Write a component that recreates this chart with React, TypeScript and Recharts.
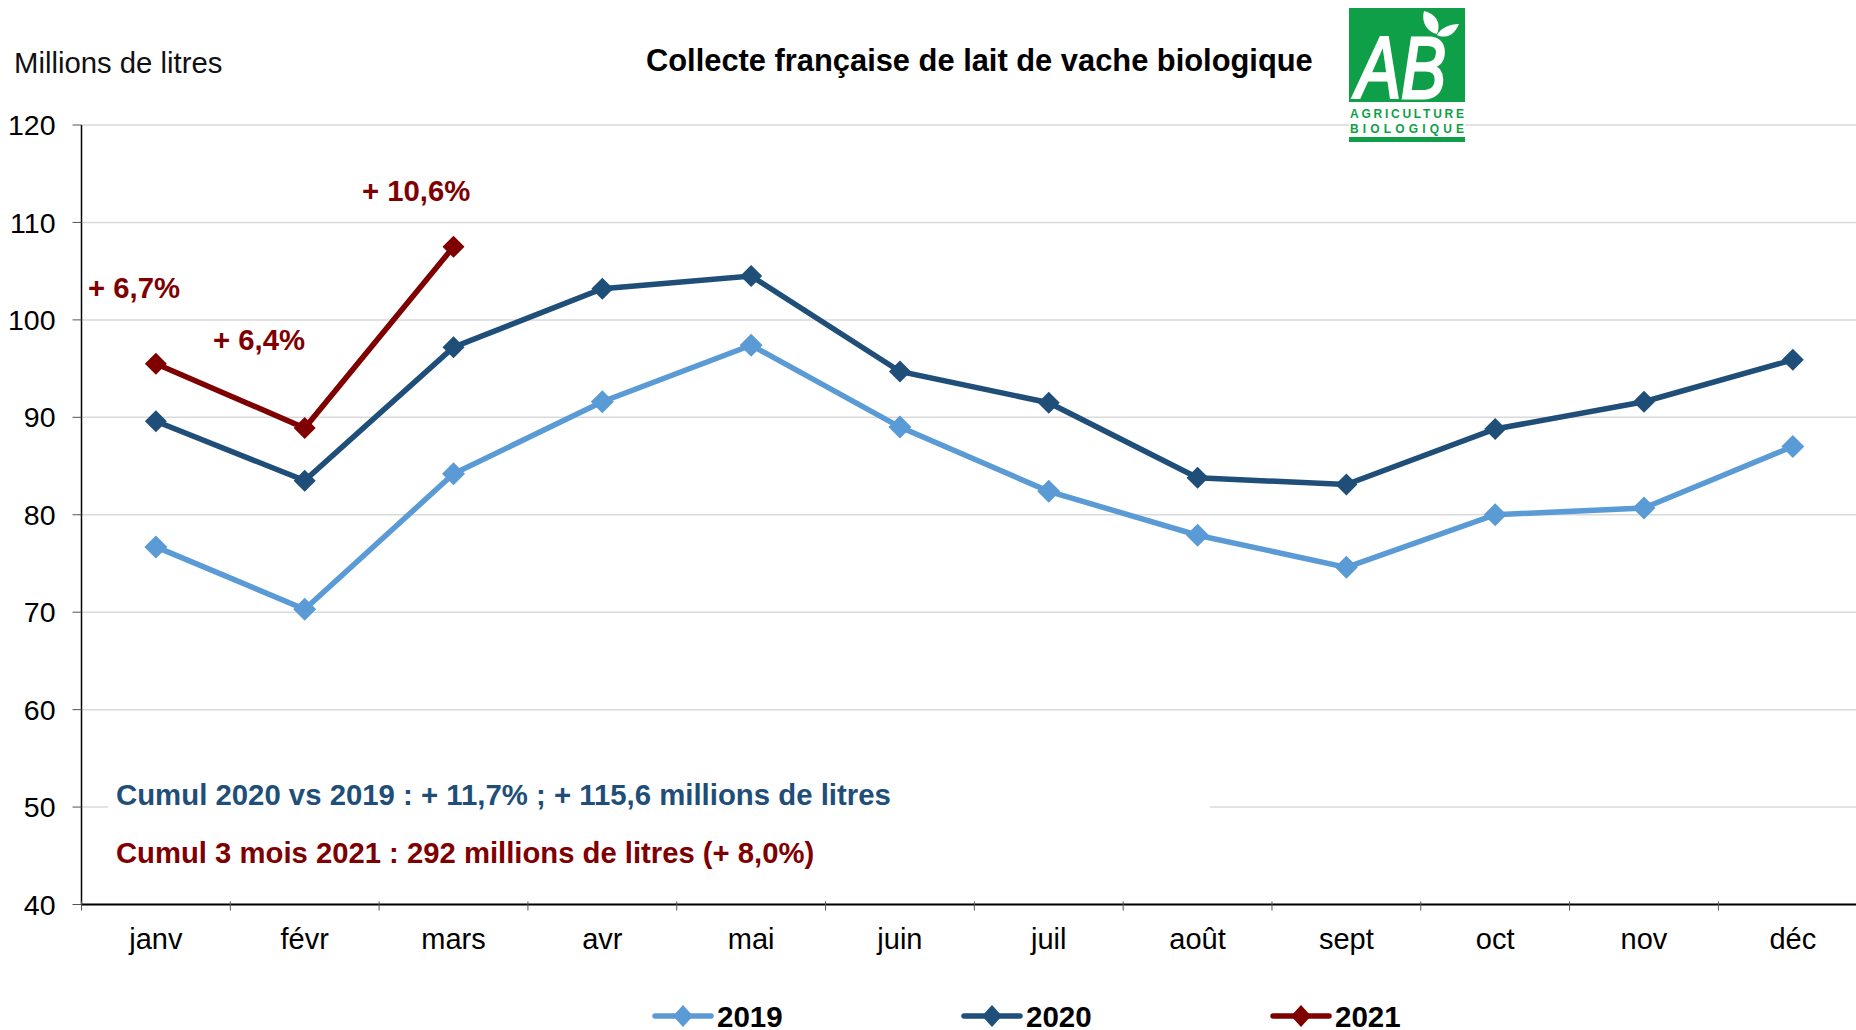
import React from "react";
import { LineChart, Line, XAxis, YAxis, CartesianGrid, Legend } from "recharts";

const months = ["janv", "févr", "mars", "avr", "mai", "juin", "juil", "août", "sept", "oct", "nov", "déc"];
const values2019 = [76.7, 70.3, 84.2, 91.6, 97.4, 89, 82.4, 77.9, 74.6, 80, 80.7, 87];
const values2020 = [89.6, 83.5, 97.2, 103.2, 104.5, 94.7, 91.5, 83.8, 83.1, 88.8, 91.6, 95.9];
const values2021 = [95.5, 88.9, 107.5];
const yTicks = [40, 50, 60, 70, 80, 90, 100, 110, 120];
const rows = months.map((m, i) => ({ m, y2019: values2019[i], y2020: values2020[i], y2021: values2021[i] }));

const FONT = "'Liberation Sans', Arial, sans-serif";
const C19 = "#5b9bd5";
const C20 = "#1f4e79";
const C21 = "#7f0000";
const BAND = 148.8;

const diamond = (color: string, r: number) => (p: any) => {
  if (p.cy == null || p.value == null) return <g key={p.key} />;
  const { cx, cy } = p;
  return <polygon key={p.key} points={`${cx},${cy - r} ${cx + r},${cy} ${cx},${cy + r} ${cx - r},${cy}`} fill={color} />;
};

const XTick = (p: any) => (
  <g>
    <line x1={p.x - BAND / 2} x2={p.x - BAND / 2} y1={p.y - 9} y2={p.y} stroke="#555" strokeWidth={1} />
    <text x={p.x} y={p.y + 38} textAnchor="middle" fontFamily={FONT} fontSize={29} fill="#000">{p.payload.value}</text>
  </g>
);

const LegendBox = ({ payload }: any) => {
  const starts = [653, 962, 1271];
  return (
    <svg width={1000} height={34} style={{ display: "block", overflow: "visible" }}>
      {(payload || []).map((e: any, i: number) => {
        const x = starts[i] - 653;
        return (
          <g key={e.value}>
            <line x1={x + 2} x2={x + 58} y1={20} y2={20} stroke={e.color} strokeWidth={5.5} strokeLinecap="round" />
            <polygon points={`${x + 30},9 ${x + 40},20 ${x + 30},31 ${x + 20},20`} fill={e.color} />
            <text x={x + 64} y={30.5} fontFamily={FONT} fontSize={29.5} fontWeight={700} fill="#000">{e.value}</text>
          </g>
        );
      })}
    </svg>
  );
};

const abs = (left: number, top: number, size: number, color: string, bold: boolean): React.CSSProperties => ({
  position: "absolute", left, top, fontFamily: FONT, fontSize: size, color, fontWeight: bold ? 700 : 400, whiteSpace: "nowrap", lineHeight: 1,
});

const Logo = () => (
  <svg width={116} height={134} viewBox="0 0 116 134" style={{ position: "absolute", left: 1349, top: 8 }}>
    <rect width={116} height={134} fill="#fff" />
    <rect width={116} height={94} fill="#0e9f48" />
    <rect y={129} width={116} height={5} fill="#0e9f48" />
    <text x={7} y={90} fontFamily={FONT} fontSize={88} fontStyle="italic" fontWeight={400} fill="#fff" stroke="#fff" strokeWidth={3} textLength={90} lengthAdjust="spacingAndGlyphs">AB</text>
    <path d="M75 3 C88 6 92 16 88 26 C78 24 72 14 75 3 Z" fill="#fff" />
    <path d="M110 16 C104 30 94 30 88 27 C92 20 100 16 110 16 Z" fill="#fff" />
    <text x={58} y={110} textAnchor="middle" fontFamily={FONT} fontSize={12} fontWeight={700} fill="#0e9f48" textLength={114} lengthAdjust="spacing">AGRICULTURE</text>
    <text x={58} y={125} textAnchor="middle" fontFamily={FONT} fontSize={12} fontWeight={700} fill="#0e9f48" textLength={114} lengthAdjust="spacing">BIOLOGIQUE</text>
  </svg>
);

export default function App() {
  return (
    <div style={{ position: "absolute", left: 0, top: 0, width: 1856, height: 1030, overflow: "hidden", background: "#fff" }}>
      <LineChart
        width={1880}
        height={1030}
        data={rows}
        margin={{ top: 125, right: 12.8, bottom: 0, left: 0 }}
      >
        <CartesianGrid vertical={false} stroke="#d9d9d9" strokeWidth={1.5} />
        <XAxis
          dataKey="m"
          scale="band"
          axisLine={{ stroke: "#000", strokeWidth: 2 }}
          tickLine={false}
          tick={<XTick />}
          height={91.5}
          tickMargin={0}
          interval={0}
        />
        <YAxis
          domain={[40, 120]}
          ticks={yTicks}
          width={81.5}
          axisLine={{ stroke: "#000", strokeWidth: 1.5 }}
          tickLine={{ stroke: "#555", strokeWidth: 1 }}
          tickSize={9}
          tick={{ fontFamily: FONT, fontSize: 28.5, fill: "#000" }}
          tickMargin={17}
        />
        <Legend
          content={<LegendBox />}
          layout="horizontal"
          wrapperStyle={{ left: 653, top: 996, width: 1000, height: 34 }}
        />
        <Line dataKey="y2019" name="2019" stroke={C19} strokeWidth={5.5} dot={diamond(C19, 11.5)} activeDot={false} isAnimationActive={false} />
        <Line dataKey="y2020" name="2020" stroke={C20} strokeWidth={5.5} dot={diamond(C20, 11)} activeDot={false} isAnimationActive={false} />
        <Line dataKey="y2021" name="2021" stroke={C21} strokeWidth={5.5} dot={diamond(C21, 11)} activeDot={false} isAnimationActive={false} />
      </LineChart>

      <div style={{ position: "absolute", left: 108, top: 770, width: 1102, height: 105, background: "#fff" }} />
      <div style={abs(14, 48, 29.3, "#111", false)}>Millions de litres</div>
      <div style={abs(646, 46, 30.85, "#000", true)}>Collecte française de lait de vache biologique</div>
      <Logo />
      <div style={abs(88, 273, 29.3, C21, true)}>+ 6,7%</div>
      <div style={abs(213, 325, 29.3, C21, true)}>+ 6,4%</div>
      <div style={abs(362, 176, 29.3, C21, true)}>+ 10,6%</div>
      <div style={abs(116, 780, 29.35, C20, true)}>Cumul 2020 vs 2019 : + 11,7% ; + 115,6 millions de litres</div>
      <div style={abs(116, 839, 29.25, C21, true)}>Cumul 3 mois 2021 : 292 millions de litres (+ 8,0%)</div>
    </div>
  );
}
